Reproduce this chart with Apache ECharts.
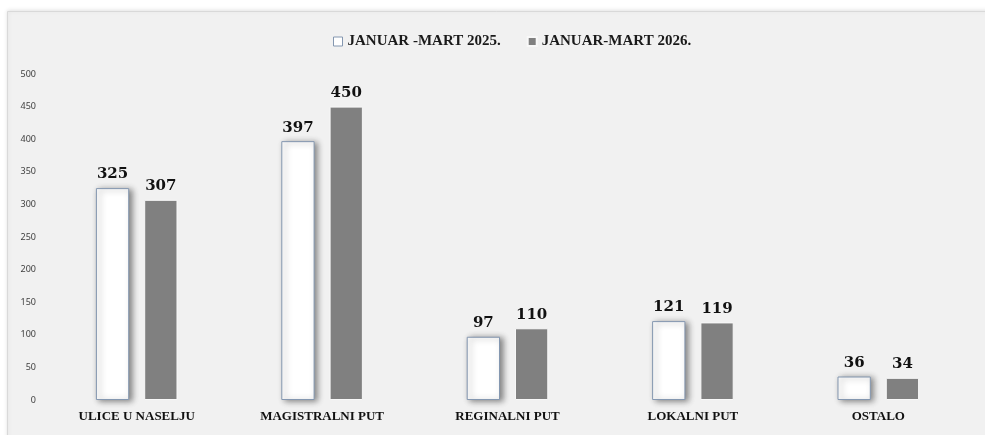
<!DOCTYPE html>
<html>
<head>
<meta charset="utf-8">
<script src="https://cdn.jsdelivr.net/npm/echarts@6/dist/echarts.min.js"></script>
<style>
  html, body { margin: 0; padding: 0; background: #ffffff; }
  #chart { width: 985px; height: 435px; }
</style>
</head>
<body>
<div id="chart"></div>
<script>
// Road categories and counts per period
const categories = ['ULICE U NASELJU', 'MAGISTRALNI PUT', 'REGINALNI PUT', 'LOKALNI PUT', 'OSTALO'];
const series2025 = [325, 397, 97, 121, 36];
const series2026 = [307, 450, 110, 119, 34];
const seriesNames = ['JANUAR -MART 2025.', 'JANUAR-MART 2026.'];
const yTicks = { min: 0, max: 500, interval: 50 };

const serif = '"Liberation Serif", "DejaVu Serif", serif';
const heavySerif = '"DejaVu Serif", "Liberation Serif", serif';

const chart = echarts.init(document.getElementById('chart'));
chart.setOption({
  animation: false,
  backgroundColor: '#ffffff',
  graphic: [{
    type: 'rect',
    left: 7, top: 11, z: -10,
    shape: { width: 990, height: 440 },
    style: {
      fill: '#f1f1f1', stroke: '#d9d9d9', lineWidth: 1,
      shadowColor: 'rgba(0,0,0,0.12)', shadowBlur: 4, shadowOffsetY: -1
    }
  }],
  legend: {
    top: 29,
    left: 328,
    itemWidth: 9,
    itemHeight: 9,
    itemGap: 26,
    icon: 'rect',
    textStyle: { fontFamily: serif, fontWeight: 'bold', fontSize: 15, color: '#1a1a1a' },
    data: [
      { name: seriesNames[0], itemStyle: { color: '#ffffff', borderColor: '#8497b0', borderWidth: 1 } },
      { name: seriesNames[1], itemStyle: { color: '#808080' } }
    ]
  },
  grid: { left: 44, right: 14, top: 74, bottom: 35 },
  xAxis: {
    type: 'category',
    data: categories,
    axisLine: { show: false },
    axisTick: { show: false },
    axisLabel: { fontFamily: serif, fontWeight: 'bold', fontSize: 13, color: '#111111', margin: 10 }
  },
  yAxis: {
    type: 'value',
    min: yTicks.min, max: yTicks.max, interval: yTicks.interval,
    splitLine: { show: false },
    axisLine: { show: false },
    axisTick: { show: false },
    axisLabel: { fontFamily: '"Noto Sans", sans-serif', fontSize: 9, color: '#404040', margin: 8 }
  },
  series: [
    {
      name: seriesNames[0],
      type: 'bar',
      data: series2025,
      barGap: '45%',
      barCategoryGap: '56%',
      itemStyle: {
        color: '#ffffff', borderColor: '#8497b0', borderWidth: 1,
        shadowColor: 'rgba(0,0,0,0.45)', shadowBlur: 6, shadowOffsetX: 3, shadowOffsetY: 1
      },
      label: {
        show: true, position: 'top', distance: 6,
        fontFamily: heavySerif, fontWeight: 'bold', fontSize: 15, color: '#111111'
      }
    },
    {
      name: seriesNames[1],
      type: 'bar',
      data: series2026,
      itemStyle: {
        color: '#808080', borderColor: '#f8f8f8', borderWidth: 1
      },
      label: {
        show: true, position: 'top', distance: 6,
        fontFamily: heavySerif, fontWeight: 'bold', fontSize: 15, color: '#111111'
      }
    }
  ]
});
</script>
</body>
</html>
